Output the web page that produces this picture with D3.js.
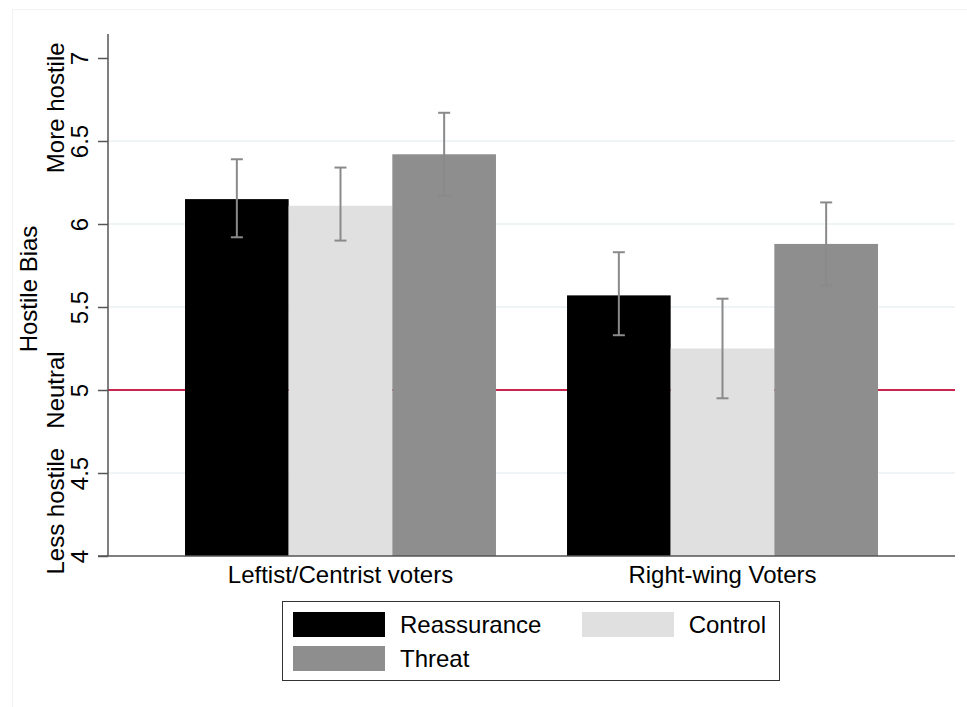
<!DOCTYPE html>
<html>
<head>
<meta charset="utf-8">
<script src="https://cdn.jsdelivr.net/npm/d3@7"></script>
<style>
  html, body { margin: 0; padding: 0; background: #fff; }
  svg { display: block; font-family: "Liberation Sans", Arial, sans-serif; }
</style>
</head>
<body>
<svg id="chart" width="967" height="707"></svg>
<script>
// Voter groups and experimental conditions
const groups = ["Leftist/Centrist voters", "Right-wing Voters"];
const conditions = ["Reassurance", "Control", "Threat"];
const conditionColors = ["#000000", "#e0e0e0", "#8e8e8e"];

// Mean hostile bias per group (rows) and condition (columns)
const means = [
  [6.15, 6.11, 6.42],
  [5.57, 5.25, 5.88]
];
// 95% confidence interval bounds
const ciLow = [
  [5.92, 5.90, 6.17],
  [5.33, 4.95, 5.63]
];
const ciHigh = [
  [6.39, 6.34, 6.67],
  [5.83, 5.55, 6.13]
];

const yTicks = [4, 4.5, 5, 5.5, 6, 6.5, 7];
const gridTicks = [4.5, 5.5, 6, 6.5];
const neutralValue = 5;
const sideLabels = [
  { text: "More hostile", value: 6.70 },
  { text: "Neutral", value: 5.0 },
  { text: "Less hostile", value: 4.27 }
];

const FONT = 24;
const svg = d3.select("#chart");

// Faint outer frame of the graph region
svg.append("rect")
  .attr("x", 12.5).attr("y", 9.5)
  .attr("width", 970).attr("height", 720)
  .attr("fill", "none").attr("stroke", "#f2f2f2").attr("stroke-width", 1);

const plot = { left: 108, right: 955, top: 34, bottom: 556 };

const y = d3.scaleLinear()
  .domain([4, 7])
  .range([plot.bottom, 58]);

const x0 = d3.scaleBand()
  .domain(groups)
  .range([plot.left, plot.right])
  .paddingInner(0.186)
  .paddingOuter(0.2016);

const x1 = d3.scaleBand()
  .domain(conditions)
  .range([0, x0.bandwidth()])
  .padding(0);

// Light horizontal grid
svg.append("g")
  .selectAll("line")
  .data(gridTicks)
  .join("line")
  .attr("x1", plot.left).attr("x2", plot.right)
  .attr("y1", d => y(d)).attr("y2", d => y(d))
  .attr("stroke", "#eaf1f3").attr("stroke-width", 1.5);

// Neutral reference line
svg.append("line")
  .attr("x1", plot.left).attr("x2", plot.right)
  .attr("y1", y(neutralValue)).attr("y2", y(neutralValue))
  .attr("stroke", "#c8264f").attr("stroke-width", 2);

// Bars
const barGroups = svg.append("g")
  .selectAll("g")
  .data(groups)
  .join("g")
  .attr("transform", d => `translate(${x0(d)},0)`);

barGroups.selectAll("rect")
  .data((g, gi) => conditions.map((c, ci) => ({ c, ci, v: means[gi][ci] })))
  .join("rect")
  .attr("x", d => x1(d.c))
  .attr("width", x1.bandwidth())
  .attr("y", d => y(d.v))
  .attr("height", d => y(4) - y(d.v))
  .attr("fill", d => conditionColors[d.ci]);

// Error bars
const capHalf = 6;
const errs = barGroups.selectAll("g.err")
  .data((g, gi) => conditions.map((c, ci) => ({ c, lo: ciLow[gi][ci], hi: ciHigh[gi][ci] })))
  .join("g")
  .attr("class", "err")
  .attr("transform", d => `translate(${x1(d.c) + x1.bandwidth() / 2},0)`)
  .attr("stroke", "#8a8a8a").attr("stroke-width", 2);

errs.append("line")
  .attr("y1", d => y(d.lo)).attr("y2", d => y(d.hi));
errs.append("line")
  .attr("x1", -capHalf).attr("x2", capHalf)
  .attr("y1", d => y(d.hi)).attr("y2", d => y(d.hi));
errs.append("line")
  .attr("x1", -capHalf).attr("x2", capHalf)
  .attr("y1", d => y(d.lo)).attr("y2", d => y(d.lo));

// Y axis
const yAxis = svg.append("g")
  .attr("transform", `translate(${plot.left},0)`)
  .call(d3.axisLeft(y).tickValues(yTicks).tickFormat(d3.format("~g")).tickSize(10).tickSizeOuter(0));
yAxis.select(".domain").remove();
yAxis.append("line")
  .attr("x1", 0).attr("x2", 0)
  .attr("y1", plot.top).attr("y2", plot.bottom)
  .attr("stroke", "#555").attr("stroke-width", 1.5);
yAxis.selectAll(".tick line").attr("stroke", "#555").attr("stroke-width", 1.5);
yAxis.selectAll(".tick text")
  .attr("font-size", FONT)
  .attr("fill", "#000")
  .attr("text-anchor", "middle")
  .attr("x", 0).attr("y", 0).attr("dy", 0)
  .attr("transform", "translate(-20,0) rotate(-90)");

// Side annotations along the y axis
svg.append("g")
  .selectAll("text")
  .data(sideLabels)
  .join("text")
  .attr("transform", d => `translate(64,${y(d.value)}) rotate(-90)`)
  .attr("text-anchor", "middle")
  .attr("font-size", FONT)
  .attr("fill", "#000")
  .text(d => d.text);

// Y axis title
svg.append("text")
  .attr("transform", "translate(37,289) rotate(-90)")
  .attr("text-anchor", "middle")
  .attr("font-size", FONT)
  .attr("fill", "#000")
  .text("Hostile Bias");

// X axis
const xAxis = svg.append("g")
  .attr("transform", `translate(0,${plot.bottom})`)
  .call(d3.axisBottom(x0).tickSize(0).tickSizeOuter(0));
xAxis.select(".domain").remove();
xAxis.append("line")
  .attr("x1", plot.left - 10).attr("x2", plot.right)
  .attr("stroke", "#555").attr("stroke-width", 1.5);
xAxis.selectAll(".tick text")
  .attr("font-size", FONT)
  .attr("fill", "#000")
  .attr("dy", 0)
  .attr("y", 27);

// Legend
const legend = svg.append("g").attr("transform", "translate(282,601)");
legend.append("rect")
  .attr("x", 0.5).attr("y", 0.5)
  .attr("width", 497).attr("height", 79)
  .attr("fill", "#fff").attr("stroke", "#333").attr("stroke-width", 1);

const legendItems = [
  { name: conditions[0], color: conditionColors[0], sx: 11, sy: 11, tx: 118, anchor: "start" },
  { name: conditions[1], color: conditionColors[1], sx: 300, sy: 11, tx: 484, anchor: "end" },
  { name: conditions[2], color: conditionColors[2], sx: 11, sy: 45, tx: 118, anchor: "start" }
];
const li = legend.selectAll("g.item").data(legendItems).join("g").attr("class", "item");
li.append("rect")
  .attr("x", d => d.sx).attr("y", d => d.sy)
  .attr("width", 92).attr("height", 25)
  .attr("fill", d => d.color);
li.append("text")
  .attr("x", d => d.tx).attr("y", d => d.sy + 21)
  .attr("text-anchor", d => d.anchor)
  .attr("font-size", FONT)
  .attr("fill", "#000")
  .text(d => d.name);
</script>
</body>
</html>
